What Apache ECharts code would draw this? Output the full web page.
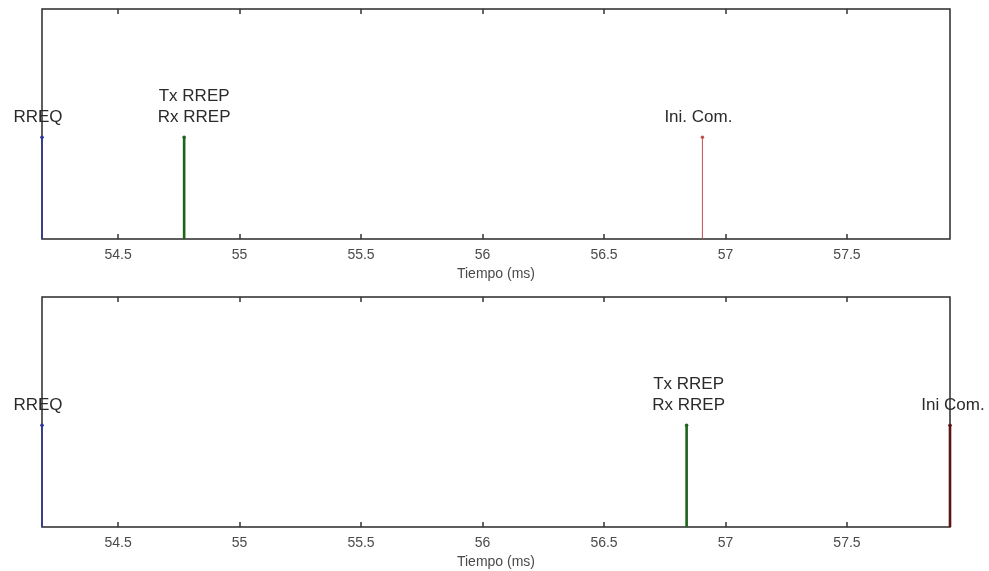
<!DOCTYPE html>
<html>
<head>
<meta charset="utf-8">
<script src="https://cdn.jsdelivr.net/npm/echarts@6/dist/echarts.min.js"></script>
<style>
  html, body { margin: 0; padding: 0; background: #ffffff; }
  #chart { width: 989px; height: 571px; }
</style>
</head>
<body>
<div id="chart"></div>
<script>
// ---- data ----
const xMin = 54.187;
const xMax = 57.924;
const tickValues = [54.5, 55, 55.5, 56, 56.5, 57, 57.5];
const tickLabels = ['54.5', '55', '55.5', '56', '56.5', '57', '57.5'];
const xAxisTitle = 'Tiempo (ms)';

const topLabels = ['RREQ', 'Tx RREP\nRx RREP', 'Ini. Com.'];
const topTimes = [54.187, 54.772, 56.905];

const bottomLabels = ['RREQ', 'Tx RREP\nRx RREP', 'Ini Com.'];
const bottomTimes = [54.187, 56.84, 57.924];

const stemValue = 1;
const yMaxValue = 2.26;

// ---- styles ----
const topStyles = [
  { color: '#2b2fa0', width: 1.3, offset: [-4, 0] },
  { color: '#1c631c', width: 2.6, offset: [10, 0] },
  { color: '#c05050', width: 1, offset: [-4, 0] }
];
const bottomStyles = [
  { color: '#2b2fa0', width: 1.3, offset: [-4, 0] },
  { color: '#1c631c', width: 2.6, offset: [2, 0] },
  { color: '#5a1414', width: 2.6, offset: [3, 0] }
];

const chart = echarts.init(document.getElementById('chart'), null, { renderer: 'canvas' });

function xAxes(gridIndex) {
  return [
    {
      type: 'value', gridIndex: gridIndex, position: 'bottom',
      min: xMin, max: xMax,
      axisLine: { show: false },
      splitLine: { show: false },
      axisTick: { show: true, inside: true, length: 5, customValues: tickValues,
        lineStyle: { color: '#333', width: 1.5 } },
      axisLabel: { show: true, customValues: tickValues, margin: 9,
        color: '#4a4a4a', fontSize: 14, fontFamily: 'Liberation Sans, Arial, sans-serif',
        formatter: function (v) { const i = tickValues.indexOf(v); return i >= 0 ? tickLabels[i] : ''; } },
      name: xAxisTitle, nameLocation: 'middle', nameGap: 28,
      nameTextStyle: { color: '#4a4a4a', fontSize: 14, fontFamily: 'Liberation Sans, Arial, sans-serif' }
    },
    {
      type: 'value', gridIndex: gridIndex, position: 'top',
      min: xMin, max: xMax,
      axisLine: { show: false },
      splitLine: { show: false },
      axisTick: { show: true, inside: true, length: 5, customValues: tickValues,
        lineStyle: { color: '#333', width: 1.5 } },
      axisLabel: { show: false }
    }
  ];
}

function stems(times, labels, styles, xIdx, yIdx) {
  return times.map(function (t, i) {
    return {
      type: 'line',
      xAxisIndex: xIdx, yAxisIndex: yIdx,
      clip: false,
      z: 5,
      lineStyle: { color: styles[i].color, width: styles[i].width },
      itemStyle: { color: styles[i].color },
      symbol: 'circle', symbolSize: 3,
      animation: false,
      data: [
        { value: [t, 0], symbol: 'none', label: { show: false } },
        { value: [t, stemValue], symbol: 'circle', symbolSize: 3.5,
          label: { show: true, position: 'top', distance: 8, offset: styles[i].offset,
            formatter: labels[i], color: '#2a2a2a', fontSize: 17, lineHeight: 21,
            fontFamily: 'Liberation Sans, Arial, sans-serif', align: 'center' } }
      ]
    };
  });
}

const option = {
  backgroundColor: '#ffffff',
  animation: false,
  grid: [
    { left: 42, top: 9, width: 908, height: 230, show: true, borderColor: '#2a2a2a', borderWidth: 1.5, backgroundColor: '#ffffff' },
    { left: 42, top: 297, width: 908, height: 230, show: true, borderColor: '#2a2a2a', borderWidth: 1.5, backgroundColor: '#ffffff' }
  ],
  xAxis: xAxes(0).concat(xAxes(1)),
  yAxis: [
    { type: 'value', gridIndex: 0, min: 0, max: yMaxValue, show: false },
    { type: 'value', gridIndex: 1, min: 0, max: yMaxValue, show: false }
  ],
  series: stems(topTimes, topLabels, topStyles, 0, 0).concat(stems(bottomTimes, bottomLabels, bottomStyles, 2, 1))
};

chart.setOption(option);
</script>
</body>
</html>
